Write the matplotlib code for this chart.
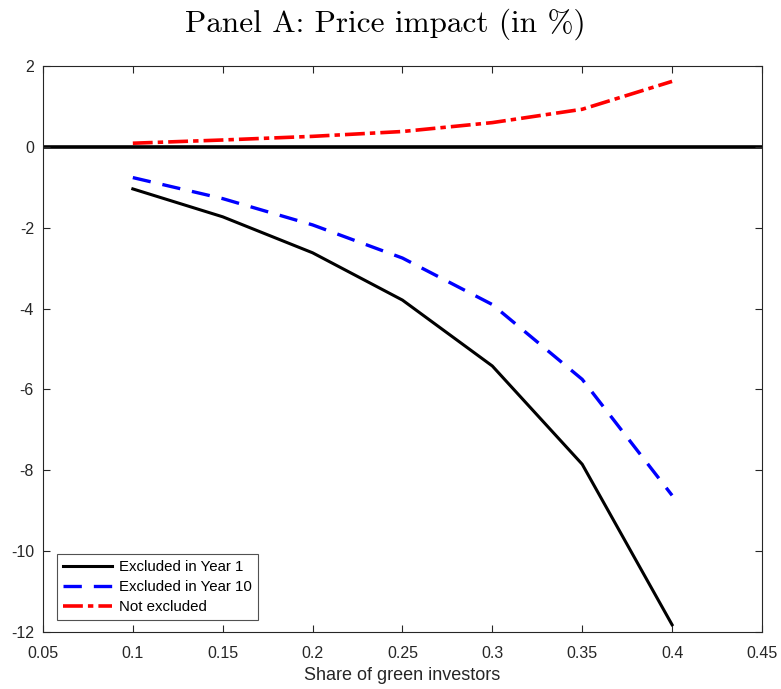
import numpy as np
import matplotlib.pyplot as plt

plt.rcParams['font.family'] = ['Liberation Sans', 'DejaVu Sans']

share = [0.10, 0.15, 0.20, 0.25, 0.30, 0.35, 0.40]
excl_year1 = [-1.04, -1.73, -2.62, -3.79, -5.42, -7.85, -11.82]
excl_year10 = [-0.76, -1.28, -1.93, -2.75, -3.90, -5.75, -8.62]
not_excl = [0.09, 0.17, 0.26, 0.38, 0.60, 0.93, 1.62]

fig = plt.figure(figsize=(7.81, 6.89), dpi=100)
ax = fig.add_axes([0.055, 0.0827, 0.9206, 0.8215])

ax.axhline(0, color='black', lw=2.6, zorder=1)
ax.plot(share, excl_year1, '-', color='black', lw=2.2, label='Excluded in Year 1')
ax.plot(share, excl_year10, '--', color='blue', lw=2.4, dashes=(5.5, 3.6), label='Excluded in Year 10')
ax.plot(share, not_excl, '-.', color='red', lw=2.6, dashes=(5.5, 1.4, 1.5, 1.4), label='Not excluded')

ax.set_xlim(0.05, 0.45)
ax.set_ylim(-12, 2)
ax.set_xticks(np.arange(0.05, 0.451, 0.05))
ax.set_xticklabels(['0.05', '0.1', '0.15', '0.2', '0.25', '0.3', '0.35', '0.4', '0.45'])
ax.set_yticks(np.arange(-12, 2.1, 2))
ax.set_yticklabels([str(v) for v in range(-12, 3, 2)])
ax.tick_params(direction='in', top=True, right=True, labelsize=11.5, length=5, colors='#262626')
ax.tick_params(axis='x', pad=10)
ax.tick_params(axis='y', pad=6.5)
for s in ax.spines.values():
    s.set_color('#262626')
    s.set_linewidth(0.8)

ax.set_xlabel('Share of green investors', fontsize=13, color='#262626', labelpad=4.5)
fig.text(0.493, 0.965, 'Panel A: Price impact (in %)', fontsize=22.5, family='cmr10',
         ha='center', va='center')

leg = ax.legend(loc='lower left', bbox_to_anchor=(0.0195, 0.021), fontsize=10.8, frameon=True,
                fancybox=False, edgecolor='#262626', handlelength=3.3, borderpad=0.4,
                labelspacing=0.4, handletextpad=0.45, borderaxespad=0)
leg.get_frame().set_linewidth(0.8)

fig.savefig('out.png', dpi=100)
